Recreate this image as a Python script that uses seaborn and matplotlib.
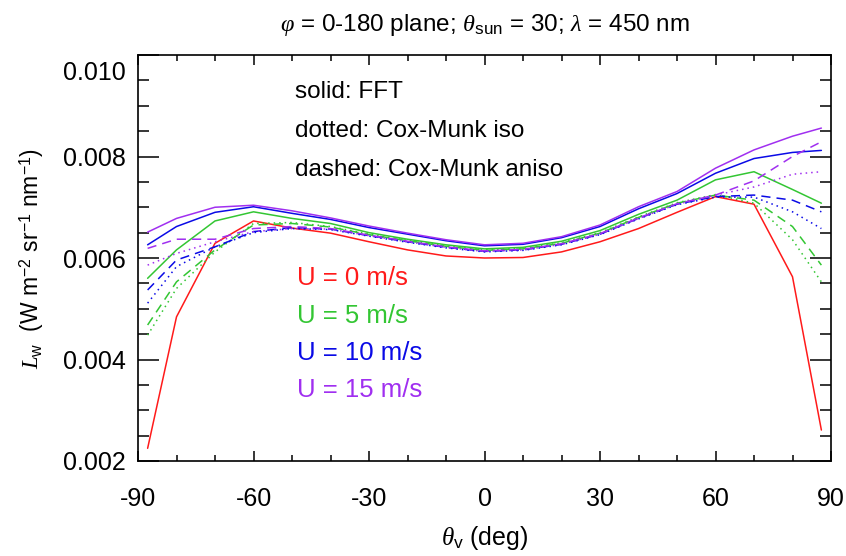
import numpy as np
import pandas as pd
import matplotlib
matplotlib.use("Agg")
import matplotlib.pyplot as plt
import matplotlib.transforms as mtransforms
import seaborn as sns

# Viewing zenith angles (deg) in the 0-180 azimuth plane
theta = [-87.5, -80, -70, -60, -50, -40, -30, -20, -10, 0,
         10, 20, 30, 40, 50, 60, 70, 80, 87.5]

# Water-leaving radiance Lw, FFT surface (solid)
fft_u0 = [0.00225, 0.00484, 0.00629, 0.00673, 0.00659, 0.00649, 0.00632, 0.00616, 0.00604, 0.00600,
          0.00601, 0.00612, 0.00632, 0.00658, 0.00690, 0.00721, 0.00706, 0.00563, 0.00261]
fft_u5 = [0.00560, 0.00616, 0.00673, 0.00691, 0.00678, 0.00668, 0.00650, 0.00637, 0.00626, 0.00618,
          0.00621, 0.00633, 0.00654, 0.00686, 0.00714, 0.00754, 0.00770, 0.00735, 0.00708]
fft_u10 = [0.00626, 0.00662, 0.00690, 0.00701, 0.00688, 0.00676, 0.00660, 0.00647, 0.00634, 0.00624,
           0.00627, 0.00640, 0.00662, 0.00697, 0.00727, 0.00767, 0.00796, 0.00808, 0.00812]
fft_u15 = [0.00651, 0.00678, 0.00700, 0.00704, 0.00693, 0.00679, 0.00663, 0.00649, 0.00636, 0.00626,
           0.00629, 0.00642, 0.00665, 0.00701, 0.00731, 0.00777, 0.00813, 0.00840, 0.00856]

# Cox-Munk isotropic slopes (dotted)
iso_u5 = [0.00448, 0.00540, 0.00612, 0.00668, 0.00670, 0.00662, 0.00647, 0.00635, 0.00624, 0.00616,
          0.00619, 0.00630, 0.00650, 0.00681, 0.00709, 0.00725, 0.00708, 0.00636, 0.00553]
iso_u10 = [0.00511, 0.00583, 0.00622, 0.00650, 0.00658, 0.00656, 0.00643, 0.00631, 0.00620, 0.00612,
           0.00615, 0.00626, 0.00646, 0.00677, 0.00705, 0.00720, 0.00720, 0.00691, 0.00658]
iso_u15 = [0.00586, 0.00609, 0.00632, 0.00652, 0.00658, 0.00657, 0.00644, 0.00632, 0.00621, 0.00613,
           0.00616, 0.00627, 0.00647, 0.00678, 0.00706, 0.00724, 0.00740, 0.00765, 0.00770]

# Cox-Munk anisotropic slopes (dashed)
aniso_u5 = [0.00468, 0.00553, 0.00616, 0.00665, 0.00668, 0.00661, 0.00646, 0.00634, 0.00623, 0.00615,
            0.00618, 0.00629, 0.00649, 0.00680, 0.00708, 0.00724, 0.00714, 0.00662, 0.00586]
aniso_u10 = [0.00537, 0.00596, 0.00622, 0.00652, 0.00660, 0.00657, 0.00644, 0.00632, 0.00621, 0.00613,
             0.00616, 0.00627, 0.00647, 0.00678, 0.00706, 0.00721, 0.00724, 0.00714, 0.00691]
aniso_u15 = [0.00619, 0.00637, 0.00637, 0.00658, 0.00662, 0.00658, 0.00645, 0.00633, 0.00622, 0.00614,
             0.00617, 0.00628, 0.00648, 0.00679, 0.00707, 0.00724, 0.00752, 0.00800, 0.00829]

wind_labels = ["U = 0 m/s", "U = 5 m/s", "U = 10 m/s", "U = 15 m/s"]
wind_colors = ["#ff1a1a", "#33c633", "#0a0ae6", "#a02ff0"]
xticks = [-90, -60, -30, 0, 30, 60, 90]
yticks = [0.002, 0.004, 0.006, 0.008, 0.010]

series = [
    ("FFT", wind_labels[0], fft_u0), ("FFT", wind_labels[1], fft_u5),
    ("FFT", wind_labels[2], fft_u10), ("FFT", wind_labels[3], fft_u15),
    ("iso", wind_labels[1], iso_u5), ("iso", wind_labels[2], iso_u10),
    ("iso", wind_labels[3], iso_u15),
    ("aniso", wind_labels[1], aniso_u5), ("aniso", wind_labels[2], aniso_u10),
    ("aniso", wind_labels[3], aniso_u15),
]
frames = [pd.DataFrame({"theta": theta, "Lw": vals, "U": u, "model": m})
          for m, u, vals in series]
df = pd.concat(frames, ignore_index=True)

sns.set_style("ticks")
plt.rcParams.update({
    "font.family": ["Liberation Sans", "DejaVu Sans"],
    "mathtext.fontset": "custom",
    "mathtext.rm": "Liberation Sans",
    "mathtext.sf": "Liberation Sans",
    "mathtext.it": "Liberation Serif:italic",
    "mathtext.bf": "Liberation Sans:bold",
    "axes.unicode_minus": False,
    "axes.linewidth": 1.2,
    "text.color": "black",
    "axes.labelcolor": "black",
    "xtick.color": "black",
    "ytick.color": "black",
    "axes.edgecolor": "black",
})

fig = plt.figure(figsize=(8.46, 5.56), dpi=100)
ax = fig.add_axes([138 / 846, 1 - 461 / 556, 693 / 846, 406 / 556])

sns.lineplot(
    data=df, x="theta", y="Lw", hue="U", style="model",
    hue_order=wind_labels, palette=dict(zip(wind_labels, wind_colors)),
    style_order=["FFT", "iso", "aniso"],
    dashes={"FFT": "", "iso": (1, 2.6), "aniso": (6, 4)},
    estimator=None, sort=False, legend=False, linewidth=1.1, ax=ax,
)

ax.set_xlim(-90, 90)
ax.set_ylim(0.002, 0.010)
ax.set_xticks(xticks)
ax.set_xticklabels([str(t) for t in xticks])
ax.set_yticks(yticks)
ax.set_yticklabels([f"{t:.3f}" for t in yticks])
ax.set_xticks(np.arange(-90, 91, 10), minor=True)
ax.set_yticks(np.arange(0.002, 0.01001, 0.0005), minor=True)

ax.tick_params(axis="both", which="both", direction="in",
               top=True, right=True, color="black", labelcolor="black", width=1.1)
ax.tick_params(axis="x", which="major", length=7, labelsize=18, pad=19)
ax.tick_params(axis="x", which="minor", length=4)
ax.tick_params(axis="y", which="major", length=15, labelsize=18, pad=9)
ax.tick_params(axis="y", which="minor", length=8)
for sp in ax.spines.values():
    sp.set_visible(True)
    sp.set_color("black")

# keep the top tick label inside the frame
top_lbl = ax.get_yticklabels()[-1]
top_lbl.set_transform(top_lbl.get_transform() +
                      mtransforms.ScaledTranslation(0, -11 / 72, fig.dpi_scale_trans))

ax.set_xlabel(r"$\theta_{\mathrm{v}}$ (deg)", fontsize=18, labelpad=9)
ax.set_ylabel(r"$L_{\mathrm{w}}$  (W m$^{-2}$ sr$^{-1}$ nm$^{-1}$)", fontsize=16.5, labelpad=12)
ax.set_title(r"$\varphi$ = 0-180 plane; $\theta_{\mathrm{sun}}$ = 30; $\lambda$ = 450 nm",
             fontsize=17.5, pad=17)

for txt, yf in zip(["solid: FFT", "dotted: Cox-Munk iso", "dashed: Cox-Munk aniso"],
                   [0.909, 0.812, 0.717]):
    ax.text(0.2266, yf, txt, transform=ax.transAxes, fontsize=17.5,
            ha="left", va="center", color="black")

for txt, col, yf in zip(wind_labels, wind_colors, [0.451, 0.357, 0.266, 0.175]):
    ax.text(0.229, yf, txt, transform=ax.transAxes, fontsize=18.5,
            ha="left", va="center", color=col)

fig.savefig("out.png", dpi=100)
